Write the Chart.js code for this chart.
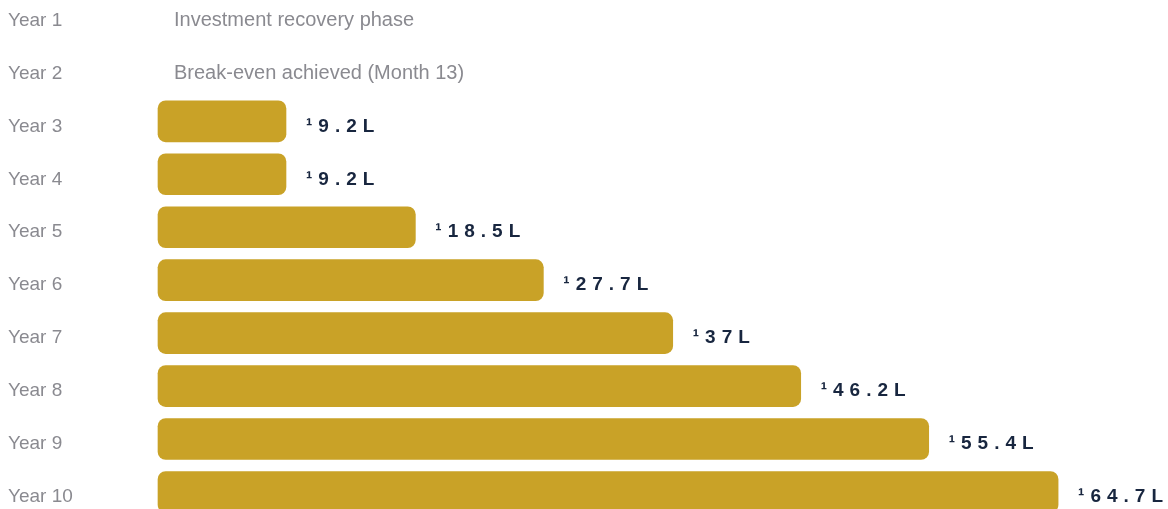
<!DOCTYPE html>
<html>
<head>
<meta charset="utf-8">
<script src="https://cdn.jsdelivr.net/npm/chart.js@4.4.1/dist/chart.umd.min.js"></script>
<style>
    html, body { margin: 0; padding: 0; background: #fff; overflow: hidden; }
    #wrap { position: relative; width: 1168px; height: 509px; }
</style>
</head>
<body>
<div id="wrap"><canvas id="roiChart"></canvas></div>
<script>
// --- DATA ---
const years = ["Year 1", "Year 2", "Year 3", "Year 4", "Year 5", "Year 6", "Year 7", "Year 8", "Year 9", "Year 10"];
const returns = [null, null, 9.2, 9.2, 18.5, 27.7, 37, 46.2, 55.4, 64.7];   // in lakhs
const notes = ["Investment recovery phase", "Break-even achieved (Month 13)", "", "", "", "", "", "", "", ""];
const prefix = "\u00B9";
const suffix = "L";

const GOLD = "#c9a227";
const GREY = "#8a8a90";
const NAVY = "#18263f";
const FONT = "'Liberation Sans', Arial, sans-serif";

// text sits a bit below the bar centre in the original
const TEXT_DROP = 5;

// draws the value labels and the notes for the rows without a bar
const rowText = {
    id: "rowText",
    afterDatasetsDraw(chart) {
        const ctx = chart.ctx;
        const meta = chart.getDatasetMeta(0);
        const yScale = chart.scales.y;
        ctx.save();
        ctx.textBaseline = "middle";
        ctx.textAlign = "left";
        years.forEach((y, i) => {
            const cy = yScale.getPixelForValue(i) + TEXT_DROP;
            if (returns[i] == null) {
                ctx.font = "20px " + FONT;
                ctx.fillStyle = GREY;
                ctx.letterSpacing = "0px";
                ctx.fillText(notes[i], 174, cy);
                return;
            }
            const bar = meta.data[i];
            ctx.font = "bold 19px " + FONT;
            ctx.fillStyle = NAVY;
            ctx.letterSpacing = "6px";
            ctx.fillText(prefix + returns[i] + suffix, bar.x + 20, cy);
        });
        ctx.restore();
    }
};

new Chart(document.getElementById("roiChart"), {
    type: "bar",
    data: {
        labels: years,
        datasets: [{
            data: returns,
            backgroundColor: GOLD,
            borderRadius: 8,
            borderSkipped: false,
            barThickness: 41,
            clip: false
        }]
    },
    options: {
        indexAxis: "y",
        responsive: true,
        maintainAspectRatio: false,
        animation: false,
        layout: { padding: { left: 8, right: 0, top: 15.4, bottom: 17 } },
        plugins: { legend: { display: false }, tooltip: { enabled: false } },
        scales: {
            x: { display: false, min: 0, max: 72.6 },
            y: {
                offset: false,
                grid: { display: false },
                border: { display: false },
                afterFit: s => { s.width = 150; },
                ticks: {
                    crossAlign: "far",
                    labelOffset: TEXT_DROP,
                    color: GREY,
                    font: { family: FONT, size: 19 }
                }
            }
        }
    },
    plugins: [rowText]
});
</script>
</body>
</html>
